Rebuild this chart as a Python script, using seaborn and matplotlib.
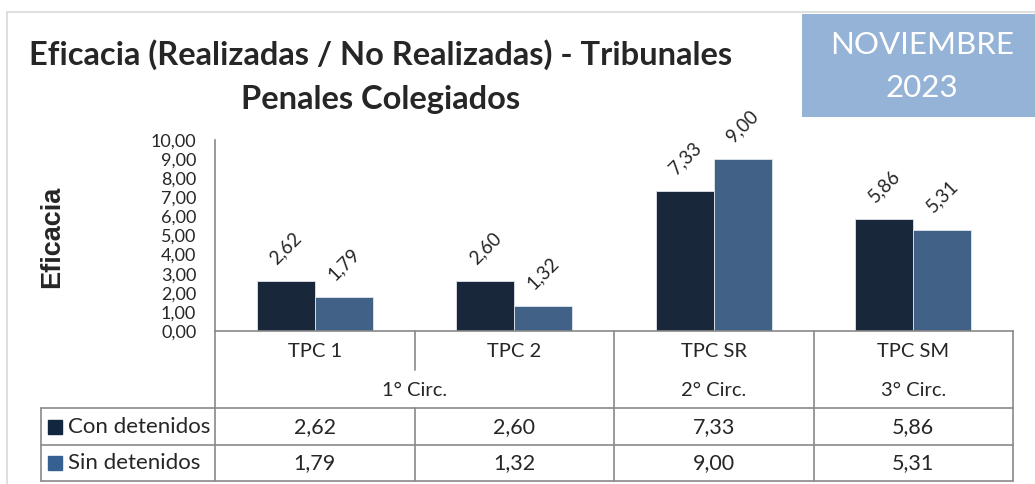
import pandas as pd
import matplotlib
matplotlib.use("Agg")
import matplotlib.pyplot as plt
import seaborn as sns
from matplotlib.patches import Rectangle
from matplotlib.lines import Line2D

# --- data ---
tribunales = ["TPC 1", "TPC 2", "TPC SR", "TPC SM"]
circuitos = ["1° Circ.", "2° Circ.", "3° Circ."]
circ_span = [2, 1, 1]
series = ["Con detenidos", "Sin detenidos"]
con_detenidos = [2.62, 2.60, 7.33, 5.86]
sin_detenidos = [1.79, 1.32, 9.00, 5.31]
y_ticks = [0, 1, 2, 3, 4, 5, 6, 7, 8, 9, 10]

colors = ["#13263F", "#376092"]
grid_col = "#898989"


def fmt(v):
    return f"{v:.2f}".replace(".", ",")


df = pd.DataFrame({
    "tribunal": tribunales * 2,
    "serie": [series[0]] * 4 + [series[1]] * 4,
    "valor": con_detenidos + sin_detenidos,
})

sns.set_theme(style="white")
plt.rcParams["font.family"] = ["Lato", "DejaVu Sans"]

W, H = 1035, 484
fig = plt.figure(figsize=(W / 100, H / 100), dpi=100)

# axes placed in pixel terms: x 215..1013, y 140..331
ax = fig.add_axes([215 / W, 1 - 331 / H, (1013 - 215) / W, (331 - 140) / H])
sns.barplot(data=df, x="tribunal", y="valor", hue="serie", palette=colors,
            width=0.58, edgecolor="#dfe5ee", linewidth=0.6, ax=ax, legend=False)

ax.set_xlim(-0.5, 3.5)
ax.set_ylim(0, 10)
ax.set_yticks(y_ticks)
ax.set_yticklabels([fmt(t) for t in y_ticks], fontsize=13)
ax.tick_params(axis="y", length=0, pad=13.5)
ax.set_xticks([])
ax.set_xlabel("")
ax.set_ylabel("")
for s in ["top", "right"]:
    ax.spines[s].set_visible(False)
for s in ["left", "bottom"]:
    ax.spines[s].set_color(grid_col)
    ax.spines[s].set_linewidth(1.2)

# rotated value labels
for cont in ax.containers:
    for bar in cont:
        v = bar.get_height()
        ax.annotate(fmt(v), (bar.get_x() + bar.get_width() / 2, v),
                    xytext=(0, 10), textcoords="offset points",
                    ha="center", va="bottom", rotation=45, fontsize=13.5)

# --- category / data table below the axis ---
tr = ax.get_xaxis_transform()
leg_left = -0.5 - (215 - 41) / 199.5
y_tab_top, y_mid, y_bot = -0.403, -0.597, -0.785


def hline(y, x0, x1):
    ax.add_line(Line2D([x0, x1], [y, y], transform=tr, color=grid_col,
                       lw=1.2, clip_on=False))


def vline(x, y0, y1):
    ax.add_line(Line2D([x, x], [y0, y1], transform=tr, color=grid_col,
                       lw=1.2, clip_on=False))


for y in [y_tab_top, y_mid, y_bot]:
    hline(y, leg_left, 3.5)
vline(leg_left, y_tab_top, y_bot)
vline(-0.5, 0, y_bot)
vline(3.5, 0, y_bot)
# group boundaries run full height, inner ones are short
edge = -0.5
for span in circ_span:
    for k in range(1, span):
        vline(edge + k, 0, -0.204)
        vline(edge + k, y_tab_top, y_bot)
    edge += span
    if edge < 3.5:
        vline(edge, 0, y_bot)

for i, t in enumerate(tribunales):
    ax.text(i, -0.105, t, transform=tr, ha="center", va="center", fontsize=14.5)
start = 0
for c, span in zip(circuitos, circ_span):
    ax.text(start + (span - 1) / 2, -0.309, c, transform=tr, ha="center",
            va="center", fontsize=14.5)
    start += span

for vals, name, col, yc in zip([con_detenidos, sin_detenidos], series, colors,
                               [-0.503, -0.691]):
    ax.plot([leg_left + 0.07], [yc], marker="s", ms=10, color=col,
            transform=tr, clip_on=False)
    ax.text(leg_left + 0.135, yc, name, transform=tr, ha="left", va="center",
            fontsize=16)
    for i, v in enumerate(vals):
        ax.text(i, yc, fmt(v), transform=tr, ha="center", va="center",
                fontsize=15.5)

# --- titles, box, frame ---
fig.text(381 / W, 1 - 55 / H, "Eficacia (Realizadas / No Realizadas) - Tribunales",
         ha="center", va="center", fontsize=23.5, fontweight="bold")
fig.text(381 / W, 1 - 100 / H, "Penales Colegiados",
         ha="center", va="center", fontsize=23.5, fontweight="bold")
fig.text(52 / W, 1 - 237 / H, "Eficacia", rotation=90, ha="center",
         va="center", fontsize=19.5, fontweight="bold", family="Liberation Sans")

fig.add_artist(Rectangle((802 / W, 1 - 117 / H), (W - 802) / W, 103 / H,
                         transform=fig.transFigure, color="#95B3D7", lw=0))
fig.text(922 / W, 1 - 45 / H, "NOVIEMBRE", ha="center", va="center",
         fontsize=22.5, color="white")
fig.text(922 / W, 1 - 88 / H, "2023", ha="center", va="center",
         fontsize=22.5, color="white")

fig.add_artist(Line2D([7 / W, 1], [1 - 12 / H] * 2, transform=fig.transFigure,
                      color="#d9d9d9", lw=1.2))
fig.add_artist(Line2D([7 / W] * 2, [0, 1 - 12 / H], transform=fig.transFigure,
                      color="#d9d9d9", lw=1.2))

fig.savefig("out.png", dpi=100)
